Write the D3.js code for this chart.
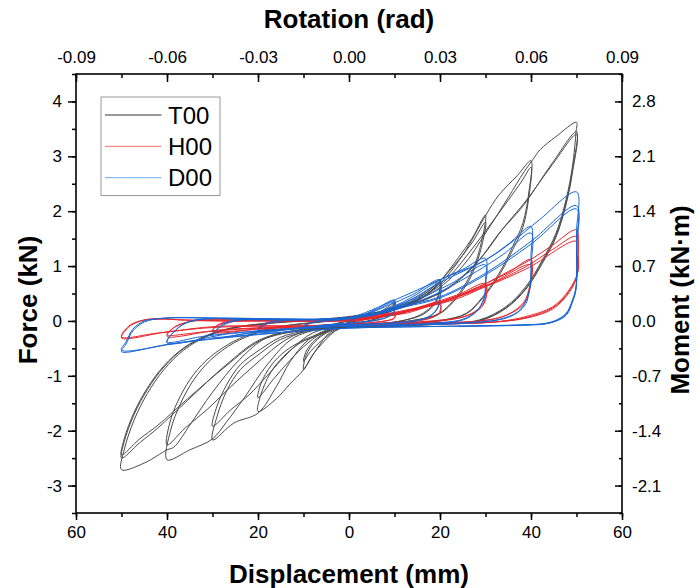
<!DOCTYPE html>
<html><head><meta charset="utf-8">
<script src="https://cdn.jsdelivr.net/npm/d3@7"></script>
<style>body{margin:0;background:#fff}svg{display:block}</style>
</head><body><svg id="c" width="696" height="588"></svg>
<script>
// ---------- data (displacement mm, force kN) ----------
const series = ["T00","H00","D00"];
const dispTicks = [-60,-40,-20,0,20,40,60];
const forceTicks = [-3,-2,-1,0,1,2,3,4];
const rotTicks = [-0.09,-0.06,-0.03,0,0.03,0.06,0.09];
const momentTicks = [-2.1,-1.4,-0.7,0,0.7,1.4,2.1,2.8];

const t00_10 = [[0,0],[3,0.06],[6,0.14],[8.5,0.25],[10,0.36],[9.5,0.24],[8,0.12],[5,0.02],[1,-0.05],[-2,-0.12],[-4,-0.25],[-6,-0.42],[-8,-0.62],[-10,-0.89],[-9.4,-0.62],[-7.5,-0.38],[-5,-0.22],[-2,-0.1],[1,0.02],[4,0.09],[7,0.17],[9,0.25],[10,0.32],[9.5,0.22],[8,0.1],[5,0.01],[1,-0.06],[-3,-0.18],[-6,-0.36],[-8.5,-0.56],[-10,-0.74],[-9.4,-0.55],[-7.5,-0.35],[-5,-0.2],[-2,-0.09],[1,0.02]];
const t00_20 = [[1,0.02],[5,0.1],[9,0.2],[12,0.3],[15,0.42],[18,0.58],[20,0.75],[19.2,0.38],[16.3,0.14],[13,0.03],[10,-0.02],[5,-0.06],[0,-0.1],[-4,-0.2],[-7,-0.5],[-10,-0.89],[-13,-1.15],[-16,-1.42],[-20,-1.65],[-19.5,-1.38],[-17.3,-0.95],[-14.4,-0.65],[-10.7,-0.4],[-6.4,-0.25],[-2,-0.1],[2,0.01],[6,0.1],[10,0.2],[14,0.32],[17,0.47],[20,0.68],[19.2,0.35],[16.3,0.12],[12,0.01],[6,-0.06],[0,-0.1],[-5,-0.18],[-9,-0.4],[-13,-0.72],[-16.5,-1.05],[-20,-1.4],[-19.4,-1.15],[-17,-0.8],[-14,-0.55],[-10,-0.35],[-6,-0.22],[-2,-0.09],[2,0.02]];
const t00_30 = [[2,0.02],[6,0.1],[10,0.2],[14,0.33],[18,0.55],[20,0.72],[24,1.15],[27,1.5],[30,1.93],[28.7,1.3],[26.5,0.81],[23.6,0.44],[19.9,0.14],[15,0.02],[10,-0.04],[3,-0.08],[-4,-0.14],[-9,-0.35],[-13,-0.75],[-16,-1.2],[-20,-1.68],[-25.3,-1.86],[-30,-2.17],[-29,-1.74],[-26.8,-1.26],[-23.9,-0.89],[-19.5,-0.59],[-15.1,-0.34],[-9.3,-0.19],[-4,-0.08],[1,0.03],[6,0.12],[11,0.24],[15,0.4],[19,0.65],[23,1.0],[27,1.42],[30,1.8],[28.7,1.22],[26.5,0.76],[23.6,0.41],[19.9,0.13],[14,0.01],[6,-0.06],[-2,-0.1],[-8,-0.22],[-13,-0.55],[-18,-1.0],[-22,-1.35],[-26,-1.62],[-30,-1.92],[-29,-1.55],[-26.8,-1.15],[-23.9,-0.8],[-19.5,-0.52],[-15.1,-0.3],[-9.3,-0.17],[-4,-0.07],[2,0.04]];
const t00_40 = [[2,0.04],[8,0.16],[14,0.32],[20,0.68],[25,1.2],[30,1.92],[33,2.3],[37,2.65],[40,2.92],[39.6,2.39],[38.2,1.78],[36,1.36],[33,0.87],[29.4,0.44],[25.8,0.14],[20,0.01],[12,-0.04],[4,-0.08],[-4,-0.12],[-12,-0.3],[-18,-0.8],[-23,-1.4],[-27,-1.85],[-30,-2.15],[-35,-2.35],[-40,-2.53],[-39.2,-1.99],[-37,-1.5],[-34.1,-1.07],[-30.4,-0.71],[-25.3,-0.4],[-20.2,-0.22],[-14.4,-0.1],[-6,-0.02],[2,0.07],[9,0.2],[15,0.38],[21,0.72],[26,1.2],[31,1.75],[35,2.2],[38,2.55],[40,2.8],[39.6,2.3],[38.2,1.7],[36,1.3],[33,0.83],[29.4,0.42],[25.8,0.13],[20,0.0],[10,-0.05],[0,-0.09],[-8,-0.14],[-14,-0.35],[-20,-0.75],[-26,-1.2],[-31,-1.6],[-36,-1.95],[-40,-2.26],[-39.2,-1.8],[-37,-1.36],[-34.1,-0.97],[-30.4,-0.65],[-25.3,-0.37],[-20.2,-0.2],[-14.4,-0.09],[-6,-0.01],[2,0.08]];
const t00_50 = [[2,0.08],[10,0.24],[18,0.5],[25,1.0],[30,1.6],[35,2.25],[38.5,2.72],[40.5,2.95],[42,3.12],[45.5,3.36],[50,3.62],[49.9,3.45],[49.1,2.81],[47.7,2.21],[45.5,1.6],[42.5,1.11],[38.9,0.63],[34.5,0.26],[28.7,0.02],[20,-0.05],[10,-0.08],[0,-0.1],[-10,-0.15],[-18,-0.3],[-24,-0.7],[-30,-1.3],[-35,-1.9],[-38.5,-2.3],[-40,-2.35],[-45,-2.59],[-50,-2.71],[-49.4,-2.35],[-47.2,-1.8],[-44.3,-1.32],[-40.7,-0.89],[-36.3,-0.53],[-31.2,-0.28],[-25.3,-0.13],[-18,-0.05],[-10,0.0],[0,0.07],[8,0.18],[15,0.33],[22,0.6],[28,1.05],[33,1.6],[38.2,2.09],[44.7,2.88],[50,3.45],[49.1,2.75],[47.7,2.15],[45.5,1.56],[42.5,1.08],[38.9,0.6],[34.5,0.24],[28.7,0.01],[20,-0.05],[10,-0.09],[0,-0.11],[-10,-0.16],[-19.5,-0.34],[-27,-0.8],[-35.5,-1.45],[-42,-1.95],[-46,-2.22],[-50,-2.5],[-49.4,-2.2],[-47.2,-1.7],[-44.3,-1.25],[-40.7,-0.84],[-36.3,-0.5],[-31.2,-0.27],[-25.3,-0.12],[-18,-0.04],[-10,0.01],[0,0.08],[8,0.19],[15,0.34],[22,0.62],[29,1.15],[34,1.7],[39,2.2],[44.7,2.85],[50,3.4],[49.1,2.7],[47.7,2.12],[45.5,1.53],[42.5,1.05],[38.9,0.58],[34.5,0.23],[28.7,0.0],[20,-0.06],[10,-0.1],[0,-0.12],[-10,-0.17],[-19.5,-0.36],[-27,-0.82],[-35.5,-1.42],[-42,-1.9],[-46,-2.15],[-50,-2.44],[-49.4,-2.15],[-47.2,-1.66],[-44.3,-1.22],[-40.7,-0.82],[-36.3,-0.49],[-31.2,-0.26],[-25.3,-0.12],[-18,-0.05]];

const h00_10 = [[0,0],[4,0.03],[8,0.09],[10,0.14],[10,0.06],[8,0.0],[4,-0.04],[0,-0.06],[-5,-0.07],[-10,-0.1],[-9,-0.04],[-5,0.0],[0,0.01],[5,0.05],[10,0.13],[10,0.05],[6,-0.02],[0,-0.05]];
const h00_20 = [[0,-0.05],[5,0.05],[10,0.12],[15,0.22],[20,0.34],[20,0.18],[19,0.09],[16,0.01],[10,-0.04],[0,-0.07],[-10,-0.1],[-20,-0.15],[-19,-0.06],[-15,0.0],[-8,0.0],[0,0.0],[6,0.06],[13,0.15],[20,0.3],[20,0.15],[18,0.06],[14,0.0],[6,-0.04],[-4,-0.07],[-12,-0.1],[-20,-0.14],[-18,-0.05],[-12,0.0],[-4,0.0]];
const h00_30 = [[-4,0.0],[5,0.06],[12,0.17],[18,0.32],[24,0.48],[30,0.68],[30,0.42],[29,0.26],[26,0.1],[22,0.02],[14,-0.04],[4,-0.07],[-8,-0.1],[-18,-0.13],[-30,-0.2],[-29,-0.08],[-26,0.0],[-20,0.02],[-10,0.0],[0,0.01],[8,0.08],[16,0.24],[23,0.42],[30,0.63],[30,0.38],[28.5,0.2],[25,0.07],[18,0.0],[8,-0.05],[-4,-0.08],[-16,-0.12],[-30,-0.18],[-28.5,-0.07],[-24,0.0],[-16,0.01],[-6,0.0]];
const h00_40 = [[-6,0.0],[6,0.06],[16,0.24],[24,0.46],[30,0.68],[35,0.88],[40,1.12],[40,0.8],[39.7,0.63],[38.5,0.35],[35,0.12],[30,0.01],[22,-0.03],[12,-0.05],[0,-0.08],[-14,-0.11],[-28,-0.16],[-40,-0.28],[-38.5,-0.12],[-35,-0.01],[-30,0.02],[-22,0.01],[-10,0.0],[2,0.03],[12,0.16],[22,0.4],[31,0.68],[40,1.02],[40,0.7],[39.6,0.55],[38.3,0.3],[34.5,0.1],[29,0.0],[20,-0.03],[8,-0.06],[-6,-0.09],[-20,-0.13],[-32,-0.2],[-40,-0.25],[-38,-0.1],[-34,0.0],[-26,0.02],[-14,0.0]];
const h00_50 = [[-14,0.0],[0,0.03],[12,0.16],[22.8,0.4],[30,0.68],[35,0.9],[40,1.12],[44.7,1.38],[50,1.66],[50.3,1.3],[50.3,0.9],[48.4,0.57],[44.8,0.26],[38.9,0.08],[33,-0.01],[24,-0.05],[12,-0.07],[0,-0.08],[-10,-0.09],[-29,-0.1],[-40,-0.2],[-50,-0.31],[-48.5,-0.12],[-47,-0.04],[-44.3,0.03],[-40,0.04],[-37.7,0.02],[-30,0.0],[-18,0.0],[-5,0.02],[8,0.12],[22.8,0.38],[30,0.63],[38.9,0.99],[44.7,1.3],[50,1.54],[50.3,1.2],[50.2,0.85],[48.4,0.54],[44.8,0.24],[38.9,0.06],[32,-0.02],[20,-0.05],[6,-0.07],[-10,-0.09],[-30,-0.12],[-42,-0.22],[-50,-0.29],[-48.5,-0.1],[-46,0.0],[-42,0.03],[-36,0.02],[-25,0.0],[-10,0.01],[4,0.08],[18,0.3],[28,0.56],[39,0.95],[50,1.45],[50.2,1.1],[50.1,0.82],[48.4,0.52],[44.8,0.22],[38.9,0.05],[30,-0.03],[16,-0.06]];

const d00_10 = [[0,0],[3,0.1],[6,0.22],[10,0.38],[10,0.2],[9,0.1],[7,0.03],[3,-0.02],[0,-0.04],[-5,-0.07],[-10,-0.12],[-9,-0.05],[-6,0.0],[-2,0.02],[2,0.08],[6,0.2],[10,0.34],[10,0.18],[8.5,0.07],[5,0.0],[0,-0.04],[-5,-0.08],[-10,-0.11],[-8,-0.03],[-4,0.01]];
const d00_20 = [[-4,0.01],[2,0.07],[8,0.26],[14,0.48],[20,0.75],[20,0.45],[19.5,0.25],[18,0.1],[15,0.0],[8,-0.05],[0,-0.07],[-10,-0.12],[-20,-0.2],[-19,-0.08],[-16,0.0],[-10,0.02],[-4,0.03],[4,0.1],[10,0.26],[15,0.44],[20,0.68],[20,0.4],[19.3,0.2],[17,0.06],[13,-0.01],[6,-0.05],[-4,-0.08],[-12,-0.13],[-20,-0.19],[-18.5,-0.07],[-14,0.01],[-6,0.02]];
const d00_30 = [[-6,0.02],[4,0.1],[12,0.35],[20,0.75],[25,0.94],[30,1.14],[30,0.75],[29.8,0.47],[28.5,0.22],[26,0.05],[22,-0.03],[12,-0.07],[0,-0.09],[-12,-0.15],[-22,-0.22],[-30,-0.3],[-29,-0.15],[-27,-0.03],[-23,0.03],[-15,0.03],[-5,0.03],[5,0.1],[14,0.36],[22,0.66],[30,1.02],[30,0.65],[29.7,0.4],[28,0.18],[25,0.03],[18,-0.04],[6,-0.08],[-6,-0.11],[-18,-0.18],[-30,-0.28],[-28.5,-0.12],[-25,0.0],[-18,0.03],[-8,0.03]];
const d00_40 = [[-8,0.03],[4,0.1],[12,0.32],[20,0.7],[30,1.11],[35,1.4],[40,1.72],[40,1.2],[40,0.75],[39.5,0.5],[38.9,0.32],[37,0.15],[34,0.04],[28,-0.03],[16,-0.07],[2,-0.09],[-12,-0.14],[-26,-0.23],[-40,-0.4],[-38.5,-0.2],[-36,-0.04],[-32,0.04],[-24,0.05],[-14,0.03],[-2,0.04],[8,0.16],[18,0.45],[28,0.9],[34,1.22],[40,1.6],[40,1.0],[39.8,0.62],[39,0.38],[37,0.16],[33,0.03],[24,-0.04],[10,-0.08],[-4,-0.1],[-20,-0.18],[-32,-0.28],[-40,-0.38],[-38,-0.16],[-35,-0.01],[-30,0.04],[-20,0.04],[-8,0.03]];
const d00_50 = [[-8,0.03],[0,0.06],[10,0.38],[20,0.75],[30,1.11],[36,1.45],[41.8,1.84],[50,2.35],[50,1.6],[49.9,0.63],[49.1,0.38],[47.7,0.14],[44.8,-0.01],[40,-0.07],[30,-0.09],[20,-0.1],[10,-0.11],[0,-0.13],[-10,-0.18],[-20,-0.25],[-30,-0.33],[-40,-0.43],[-50,-0.56],[-49,-0.42],[-47.5,-0.18],[-45,-0.02],[-41,0.05],[-33,0.06],[-25,0.03],[-15,0.02],[-5,0.03],[5,0.1],[12,0.27],[20,0.44],[30,0.87],[40,1.45],[50,2.1],[50,1.4],[49.9,0.6],[49.1,0.36],[47.7,0.12],[44.5,-0.03],[38,-0.07],[26,-0.09],[12,-0.11],[0,-0.13],[-12,-0.19],[-24,-0.27],[-36,-0.38],[-50,-0.53],[-49,-0.38],[-47.5,-0.15],[-45,0.0],[-40,0.05],[-30,0.05],[-20,0.03],[-8,0.03],[4,0.09],[12,0.25],[20,0.42],[30,0.84],[40,1.4],[50,2.04],[50,1.3],[49.9,0.58],[49.1,0.34],[47.7,0.1],[44,-0.04],[36,-0.08],[24,-0.1]];

const t00 = [t00_10,t00_20,t00_30,t00_40,t00_50];
const h00 = [h00_10,h00_20,h00_30,h00_40,h00_50];
const d00 = [d00_10,d00_20,d00_30,d00_40,d00_50];
const colors = {T00:"#4a4a4a",H00:"#e8262c",D00:"#1766d6"};
const legendColors = {T00:"#777777",H00:"#ff8a8a",D00:"#8ab8f2"};

// ---------- layout ----------
const svg = d3.select("#c");
const L=76, R=622, T=74, B=513;
const x = d3.scaleLinear().domain([-60,60]).range([L,R]);
const y = d3.scaleLinear().domain([-3.5,4.5]).range([B,T]);
const xr = d3.scaleLinear().domain([-0.09,0.09]).range([L,R]);
const ym = d3.scaleLinear().domain([-3.5*0.7,4.5*0.7]).range([B,T]);
const font = "'Liberation Sans', Arial, sans-serif";
const hy = f => (v => f(v).replace("\u2212","-"));

const g = svg.append("g");
const line = d3.line().x(d=>x(d[0])).y(d=>y(d[1])).curve(d3.curveCatmullRom.alpha(0.5));
function drawSeries(arrs, col){
  arrs.forEach(a=>g.append("path").attr("d",line(a)).attr("fill","none").attr("stroke",col).attr("stroke-width",1).attr("stroke-linejoin","round"));
}
drawSeries(t00, colors.T00);
drawSeries(h00, colors.H00);
drawSeries(d00, colors.D00);

// frame
svg.append("rect").attr("x",L).attr("y",T).attr("width",R-L).attr("height",B-T).attr("fill","none").attr("stroke","#000").attr("stroke-width",1.6);

function styleAxis(sel, fs){
  sel.select(".domain").remove();
  sel.selectAll(".tick line").attr("stroke","#000").attr("stroke-width",1.5);
  sel.selectAll("text").attr("font-family",font).attr("font-size",fs).attr("fill","#000");
}
const minorX = d3.range(-60,61,10), minorY = d3.range(-3.5,4.51,0.5);
// bottom
svg.append("g").attr("transform",`translate(0,${B})`).call(d3.axisBottom(x).tickValues(minorX).tickSize(4).tickFormat("")).call(s=>styleAxis(s,0));
svg.append("g").attr("transform",`translate(0,${B})`).call(d3.axisBottom(x).tickValues(dispTicks).tickSize(7).tickPadding(6).tickFormat(d=>Math.abs(d))).call(s=>styleAxis(s,17));
// top (inward)
svg.append("g").attr("transform",`translate(0,${T})`).call(d3.axisBottom(xr).tickValues(d3.range(-0.09,0.0901,0.015)).tickSize(4).tickFormat("")).call(s=>styleAxis(s,0));
svg.append("g").attr("transform",`translate(0,${T})`).call(d3.axisTop(xr).tickValues(rotTicks).tickSize(0).tickPadding(11).tickFormat(hy(d3.format(".2f")))).call(s=>styleAxis(s,17));
svg.append("g").attr("transform",`translate(0,${T})`).call(d3.axisBottom(xr).tickValues(rotTicks).tickSize(8).tickFormat("")).call(s=>styleAxis(s,0));
// left
svg.append("g").attr("transform",`translate(${L},0)`).call(d3.axisLeft(y).tickValues(minorY).tickSize(4).tickFormat("")).call(s=>styleAxis(s,0));
svg.append("g").attr("transform",`translate(${L},0)`).call(d3.axisLeft(y).tickValues(forceTicks).tickSize(8).tickPadding(6).tickFormat(hy(d3.format("d")))).call(s=>styleAxis(s,17));
// right (inward)
svg.append("g").attr("transform",`translate(${R},0)`).call(d3.axisLeft(ym).tickValues(d3.range(-2.45,3.16,0.35)).tickSize(3).tickFormat("")).call(s=>styleAxis(s,0));
svg.append("g").attr("transform",`translate(${R},0)`).call(d3.axisLeft(ym).tickValues(momentTicks).tickSize(7).tickFormat("")).call(s=>styleAxis(s,0));
svg.append("g").attr("transform",`translate(${R},0)`).call(d3.axisRight(ym).tickValues(momentTicks).tickSize(0).tickPadding(10).tickFormat(hy(d3.format(".1f")))).call(s=>styleAxis(s,17));

// titles
const tstyle = s=>s.attr("font-family",font).attr("font-weight","bold").attr("font-size",26).attr("fill","#000").attr("text-anchor","middle");
svg.append("text").attr("x",349).attr("y",28).text("Rotation (rad)").call(tstyle);
svg.append("text").attr("x",349).attr("y",583).text("Displacement (mm)").call(tstyle);
svg.append("text").attr("transform","translate(37,300) rotate(-90)").text("Force (kN)").call(tstyle);
svg.append("text").attr("transform","translate(689,300) rotate(-90)").text("Moment (kN\u00B7m)").call(tstyle);

// legend
const lg = svg.append("g");
lg.append("rect").attr("x",101).attr("y",97).attr("width",119).attr("height",98.5).attr("fill","#fff").attr("stroke","#999").attr("stroke-width",1);
series.forEach((s,i)=>{
  const yy = 115 + i*31.3;
  lg.append("line").attr("x1",105).attr("x2",161.5).attr("y1",yy).attr("y2",yy).attr("stroke",legendColors[s]).attr("stroke-width",1.3);
  lg.append("text").attr("x",168).attr("y",yy+8.5).text(s).attr("font-family",font).attr("font-size",24).attr("fill","#000");
});
</script></body></html>
